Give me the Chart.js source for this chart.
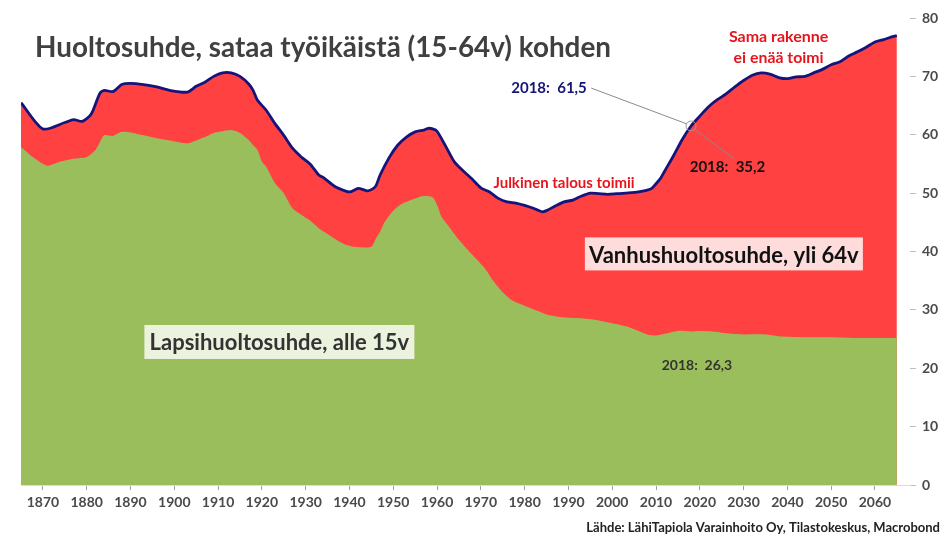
<!DOCTYPE html>
<html><head><meta charset="utf-8">
<script src="https://cdn.jsdelivr.net/npm/chart.js@4.4.1/dist/chart.umd.min.js"></script>
<style>html,body{margin:0;padding:0;background:#fff}#wrap{width:951px;height:547px;position:relative}</style>
</head><body><div id="wrap"><canvas id="c" width="951" height="547"></canvas></div>
<script>
// Total dependency ratio (per 100 working-age, 15-64)
const totalYears = [1865,1870,1875,1877,1879,1881,1883,1884,1886,1888,1890,1893,1896,1899,1903,1905,1907,1909,1911,1913,1915,1917,1918,1919,1921,1923,1925,1927,1929,1931,1933,1934,1936,1937,1940,1942,1944,1945,1946,1947,1949,1951,1953,1955,1957,1958,1959,1960,1962,1964,1966,1968,1970,1972,1974,1976,1978,1980,1982,1984,1985,1987,1989,1991,1993,1995,1997,1999,2001,2003,2006,2009,2010,2011,2012,2013,2014,2016,2018,2020,2022,2024,2026,2028,2030,2032,2034,2036,2038,2040,2042,2044,2046,2048,2050,2052,2054,2056,2058,2060,2062,2064,2065];
const totalRatio = [65.5,61.0,62.1,62.6,62.3,63.5,67.1,67.6,67.4,68.6,68.8,68.6,68.2,67.6,67.3,68.3,69.0,70.0,70.6,70.6,70.0,68.7,67.6,65.9,64.2,61.9,59.9,57.7,56.2,55.0,53.1,52.7,51.5,51.0,50.2,50.8,50.4,50.6,51.2,53.1,56.0,58.2,59.6,60.5,60.8,61.1,61.0,60.6,58.0,55.3,53.8,52.4,50.9,50.2,49.1,48.5,48.3,47.9,47.4,46.8,47.0,47.8,48.5,48.8,49.5,50.0,49.9,49.8,49.9,50.0,50.2,50.8,51.6,52.5,53.8,55.1,56.4,59.2,61.5,63.2,64.8,66.0,67.0,68.2,69.3,70.2,70.6,70.4,69.8,69.6,69.9,70.0,70.6,71.2,72.0,72.5,73.5,74.2,75.0,75.9,76.3,76.8,77.0];
// Child dependency ratio (under 15)
const childYears = [1865,1868,1871,1874,1877,1880,1882,1883,1884,1886,1888,1890,1893,1896,1899,1903,1905,1907,1909,1911,1913,1915,1917,1918,1919,1920,1921,1923,1925,1927,1929,1931,1933,1935,1937,1939,1941,1943,1945,1946,1947,1948,1950,1952,1955,1957,1959,1960,1961,1963,1965,1967,1969,1971,1973,1975,1977,1979,1981,1983,1985,1988,1992,1996,2000,2004,2008,2010,2012,2015,2018,2020,2023,2026,2030,2035,2038,2040,2045,2050,2055,2060,2065];
const childRatio = [57.9,56.0,54.7,55.4,55.9,56.2,57.4,58.7,59.9,59.8,60.5,60.4,59.9,59.4,59.0,58.5,59.0,59.6,60.3,60.6,60.8,60.3,59.1,58.2,57.4,55.4,54.5,51.7,50.0,47.4,46.3,45.3,44.0,43.0,42.0,41.2,40.8,40.7,40.8,42.2,43.4,45.0,47.0,48.2,49.1,49.5,49.3,48.0,46.0,44.0,42.0,40.3,38.7,37.0,34.8,33.0,31.7,31.0,30.4,29.8,29.2,28.8,28.6,28.3,27.7,27.0,25.8,25.6,25.9,26.4,26.3,26.4,26.3,26.0,25.8,25.8,25.5,25.4,25.3,25.3,25.2,25.2,25.2];
const xTickValues = [1870,1880,1890,1900,1910,1920,1930,1940,1950,1960,1970,1980,1990,2000,2010,2020,2030,2040,2050,2060];
const yTickValues = [0,10,20,30,40,50,60,70,80];

const titleText = 'Huoltosuhde, sataa työikäistä (15-64v) kohden';
const sourceText = 'Lähde: LähiTapiola Varainhoito Oy, Tilastokeskus, Macrobond';

Chart.defaults.font.family = 'Lato, "Open Sans", sans-serif';

function txt(ctx, s, x, y, font, color, align, maxW) {
  ctx.font = font; ctx.fillStyle = color; ctx.textAlign = align || 'left'; ctx.textBaseline = 'middle';
  if (maxW) ctx.fillText(s, x, y, maxW); else ctx.fillText(s, x, y);
}

const annot = {
  id: 'annot',
  afterDatasetsDraw(chart) {
    const ctx = chart.ctx, xs = chart.scales.x, ys = chart.scales.y;
    const px = v => xs.getPixelForValue(v), py = v => ys.getPixelForValue(v);
    ctx.save();
    // title
    txt(ctx, titleText, 35, 48, 'bold 29px Lato', '#404040', 'left', 576);
    // labels on curve
    txt(ctx, 'Julkinen talous toimii', px(1989), py(51.7), 'bold 15px Lato', '#e8141c', 'center', 150);
    txt(ctx, 'Sama rakenne', px(2038), py(76.7), 'bold 16px Lato', '#e8141c', 'center', 100);
    txt(ctx, 'ei enää toimi', px(2038), py(73.1), 'bold 16px Lato', '#e8141c', 'center', 90);
    // 2018 total marker
    const cx = px(2018), cy = py(61.5);
    ctx.strokeStyle = '#8a8a8a'; ctx.lineWidth = 1;
    ctx.beginPath(); ctx.moveTo(px(1995.2), py(68.0)); ctx.lineTo(cx - 4, cy - 2); ctx.stroke();
    ctx.beginPath(); ctx.moveTo(cx + 3, cy + 3); ctx.lineTo(px(2028), py(55.8)); ctx.stroke();
    ctx.beginPath(); ctx.arc(cx, cy, 5, 0, Math.PI * 2); ctx.strokeStyle = '#9a9a9a'; ctx.stroke();
    txt(ctx, '2018:  61,5', px(1994.2), py(68.0), 'bold 15px Lato', '#141478', 'right', 84);
    txt(ctx, '2018:  35,2', px(2017.7), py(54.5), 'bold 15px Lato', '#111', 'left', 80);
    txt(ctx, '2018:  26,3', px(2011.3), py(20.4), 'bold 14px Lato', '#333', 'left', 80);
    // boxed labels
    const vx = px(2025.5), vy = py(39.5);
    ctx.fillStyle = 'rgba(255,255,255,0.82)'; ctx.fillRect(vx - 139, vy - 17, 278, 33);
    txt(ctx, 'Vanhushuoltosuhde, yli 64v', vx, vy + 1, 'bold 22px Lato', '#111', 'center', 273);
    const lx = px(1924), ly = py(24.5);
    ctx.fillStyle = 'rgba(255,255,255,0.8)'; ctx.fillRect(lx - 135, ly - 17, 270, 34);
    txt(ctx, 'Lapsihuoltosuhde, alle 15v', lx, ly + 1, 'bold 22px Lato', '#333', 'center', 261);
    // source
    txt(ctx, sourceText, 940, 528, 'bold 13px Lato', '#222', 'right', 355);
    ctx.restore();
  }
};

new Chart(document.getElementById('c'), {
  type: 'line',
  data: {
    datasets: [
      { label: 'Lapsihuoltosuhde', data: childYears.map((yr, i) => ({x: yr, y: childRatio[i]})),
        fill: 'origin', backgroundColor: '#9bbe5c', borderWidth: 0, borderColor: 'rgba(0,0,0,0)', pointRadius: 0, tension: 0.25 },
      { label: 'Huoltosuhde', data: totalYears.map((yr, i) => ({x: yr, y: totalRatio[i]})),
        fill: 'origin', backgroundColor: '#ff4141', borderColor: '#14147a', borderWidth: 2.8, pointRadius: 0, tension: 0.25 }
    ]
  },
  options: {
    responsive: false, animation: false, devicePixelRatio: 1,
    layout: { padding: { left: 21, top: 18, right: 0, bottom: 0 } },
    plugins: { legend: { display: false }, tooltip: { enabled: false }, title: { display: false } },
    scales: {
      x: {
        type: 'linear', min: 1865, max: 2068,
        afterBuildTicks: s => { s.ticks = xTickValues.map(v => ({value: v})); },
        afterFit: s => { s.height = 62; },
        ticks: { font: { size: 14, weight: 'bold' }, color: '#4a4a4a', padding: 4, maxRotation: 0, autoSkip: false, callback: v => String(v) },
        grid: { drawOnChartArea: false, drawTicks: true, tickLength: 5, color: '#a0a0a0' },
        border: { display: true, color: '#dcdcdc' }
      },
      y: {
        position: 'right', min: 0, max: 80,
        afterBuildTicks: s => { s.ticks = yTickValues.map(v => ({value: v})); },
        afterFit: s => { s.width = 41; },
        ticks: { font: { size: 14, weight: 'bold' }, color: '#4a4a4a', padding: 6 },
        grid: { drawOnChartArea: false, drawTicks: true, tickLength: 6, color: '#c0c0c0' },
        border: { display: false }
      }
    }
  },
  plugins: [annot]
});
</script>
</body></html>
